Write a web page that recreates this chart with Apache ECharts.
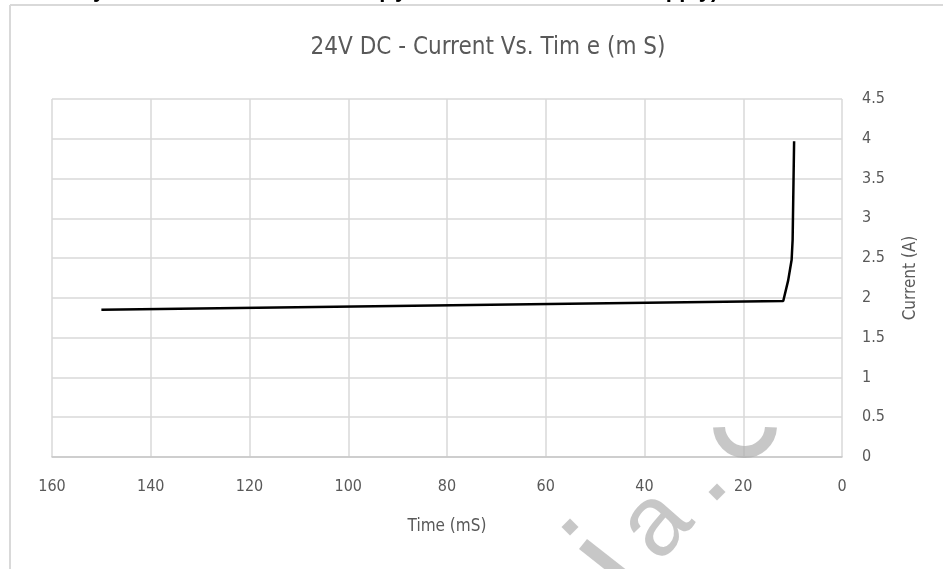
<!DOCTYPE html>
<html>
<head>
<meta charset="utf-8">
<script src="https://cdn.jsdelivr.net/npm/echarts@6/dist/echarts.min.js"></script>
<style>
html,body{margin:0;padding:0;background:#fff;}
#chart{width:943px;height:569px;}
</style>
</head>
<body>
<div id="chart"></div>
<script>
// ---- data ----
const chartTitle = '24V DC - Current Vs. Tim e (m S)';
const xAxisName = 'Time (mS)';
const yAxisName = 'Current (A)';
const timeMs  = [150, 11.9, 10.9, 10.2, 10.0, 9.7];
const current = [1.85, 1.96, 2.22, 2.48, 2.73, 3.97];
const xTicks = [0, 20, 40, 60, 80, 100, 120, 140, 160];
const yTicks = [0, 0.5, 1, 1.5, 2, 2.5, 3, 3.5, 4, 4.5];

const FONT = '"Liberation Sans Narrow", "DejaVu Sans Condensed", "Liberation Sans", sans-serif';
const TXT = '#595959';
const GRID = '#d9d9d9';
const WM = 'rgba(175,175,175,0.7)';
const TOPFONT = 'bold 22px "Liberation Sans", sans-serif';

const seriesData = timeMs.map((t, i) => [t, current[i]]);

const chart = echarts.init(document.getElementById('chart'), null, {renderer: 'canvas'});
chart.setOption({
  backgroundColor: '#fff',
  animation: false,
  title: {
    text: chartTitle,
    left: 483,
    top: 31,
    textAlign: 'center',
    textStyle: {fontFamily: FONT, fontSize: 24, fontWeight: 'normal', color: TXT}
  },
  grid: {left: 52, right: 101, top: 99, bottom: 112, containLabel: false},
  xAxis: {
    type: 'value',
    inverse: true,
    min: xTicks[0], max: xTicks[xTicks.length - 1], interval: 20,
    name: xAxisName,
    nameLocation: 'middle',
    nameGap: 61,
    nameTextStyle: {fontFamily: FONT, fontSize: 17, color: TXT},
    axisLine: {show: true, lineStyle: {color: '#c8c8c8', width: 1.5}},
    axisTick: {show: false},
    axisLabel: {margin: 22, fontFamily: FONT, fontSize: 16, color: TXT},
    splitLine: {show: true, lineStyle: {color: GRID, width: 1.5}}
  },
  yAxis: {
    type: 'value',
    position: 'right',
    min: yTicks[0], max: yTicks[yTicks.length - 1], interval: 0.5,
    name: yAxisName,
    nameLocation: 'middle',
    nameRotate: 90,
    nameGap: 60,
    nameTextStyle: {fontFamily: FONT, fontSize: 17, color: TXT},
    axisLine: {show: false},
    axisTick: {show: false},
    axisLabel: {margin: 20, fontFamily: FONT, fontSize: 16, color: TXT},
    splitLine: {show: true, lineStyle: {color: GRID, width: 1.5}}
  },
  series: [{
    type: 'line',
    data: seriesData,
    showSymbol: false,
    smooth: false,
    lineStyle: {color: '#000', width: 2.5},
    z: 3
  }],
  graphic: [
    // chart frame
    {type: 'line', shape: {x1: 10, y1: 5, x2: 10, y2: 569}, style: {stroke: GRID, lineWidth: 2}},
    {type: 'line', shape: {x1: 10, y1: 5, x2: 943, y2: 5}, style: {stroke: GRID, lineWidth: 2}},
    // cut-off text above the chart (descenders only)
    {type: 'text', x: 99, y: 2, style: {text: 'y', font: TOPFONT, fill: '#000', textAlign: 'center', textVerticalAlign: 'bottom'}},
    {type: 'text', x: 386, y: 2, style: {text: 'p', font: TOPFONT, fill: '#000', textAlign: 'center', textVerticalAlign: 'bottom'}},
    {type: 'text', x: 401, y: 2, style: {text: 'y', font: TOPFONT, fill: '#000', textAlign: 'center', textVerticalAlign: 'bottom'}},
    {type: 'text', x: 692, y: 2, style: {text: 'pp y)', font: TOPFONT, fill: '#000', textAlign: 'center', textVerticalAlign: 'bottom'}},
    // watermark fragments
    {type: 'rect', x: 570, y: 527, rotation: Math.PI / 4, shape: {x: -6, y: -6, width: 12, height: 12}, style: {fill: WM}, z: 10},
    {type: 'line', shape: {x1: 583, y1: 544, x2: 625, y2: 577}, style: {stroke: WM, lineWidth: 13}, z: 10},
    {type: 'text', x: 657, y: 525, rotation: 0.85, style: {text: 'a', font: '100px "Liberation Sans", sans-serif', fill: WM, textAlign: 'center', textVerticalAlign: 'middle'}, z: 10},
    {type: 'rect', x: 717, y: 492, rotation: Math.PI / 4, shape: {x: -6, y: -6, width: 12, height: 12}, style: {fill: WM}, z: 10},
    {type: 'arc', shape: {cx: 745, cy: 426, r: 26, startAngle: 0.05, endAngle: Math.PI - 0.05, clockwise: true}, style: {stroke: WM, lineWidth: 12, fill: 'none'}, z: 10}
  ]
});
</script>
</body>
</html>
